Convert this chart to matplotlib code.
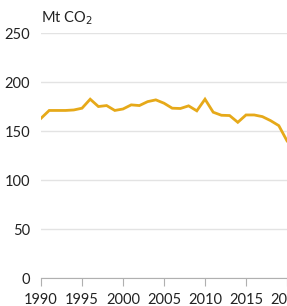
import matplotlib

matplotlib.use("Agg")
import matplotlib.pyplot as plt

YEARS = list(range(1990, 2021))
EMISSIONS = [
    163, 171, 171, 171, 171.5, 173.3, 182.5, 175, 176, 171,
    172.5, 176.7, 176, 180, 181.8, 178.4, 173.3, 173, 175.7, 170.6,
    182.5, 169.2, 166.1, 165.8, 158.9, 166.4, 166.4, 164.7, 160.6, 155.5,
    140,
]
X_TICKS = [1990, 1995, 2000, 2005, 2010, 2015, 2020]
Y_TICKS = [0, 50, 100, 150, 200, 250]
UNIT_LABEL = "Mt CO$_2$"

LINE_COLOR = "#e6a919"
GRID_COLOR = "#e3e3e3"
TEXT_COLOR = "#222222"

plt.rcParams["font.family"] = ["Lato", "DejaVu Sans"]

fig = plt.figure(figsize=(2.87, 3.06), dpi=100)
ax = fig.add_axes([0.1429, 0.0915, 0.8571, 0.8005])

ax.plot(YEARS, EMISSIONS, color=LINE_COLOR, linewidth=2.0, solid_joinstyle="miter", clip_on=True)

ax.set_xlim(1990, 2019.5)
ax.set_ylim(0, 250)
ax.set_xticks(X_TICKS)
ax.set_xticklabels([str(t) for t in X_TICKS])
ax.set_yticks(Y_TICKS)

ax.yaxis.grid(True, color=GRID_COLOR, linewidth=1.0)
ax.set_axisbelow(True)
for side in ("top", "right", "left"):
    ax.spines[side].set_visible(False)
ax.spines["bottom"].set_color("#b0b0b0")
ax.spines["bottom"].set_linewidth(0.8)

ax.tick_params(axis="y", length=0, pad=8, labelsize=10.5, labelcolor=TEXT_COLOR)
ax.tick_params(axis="x", length=6, width=0.8, color="#b0b0b0", pad=5,
               labelsize=10.5, labelcolor=TEXT_COLOR)

fig.text(0.1429, 0.94, UNIT_LABEL, fontsize=10.5, color=TEXT_COLOR,
         ha="left", va="center")

fig.savefig("out.png", dpi=100)
